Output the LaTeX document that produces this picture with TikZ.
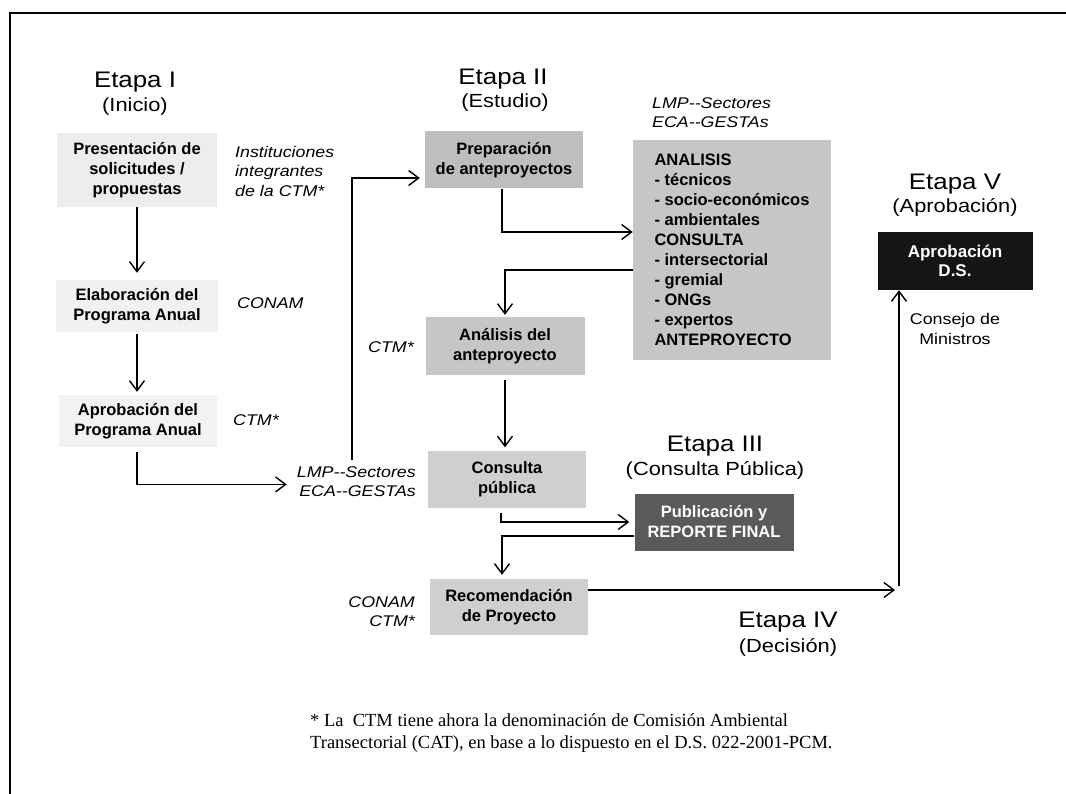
\documentclass[tikz,border=0pt]{standalone}
\usepackage{fontspec}
\setmainfont{Liberation Sans}
\newfontfamily\etfont[FakeStretch=1.15]{Liberation Sans}
\newfontfamily\boxfont{Liberation Sans}
\newfontfamily\notefont{Liberation Serif}
\usetikzlibrary{arrows.meta}
\definecolor{lightbox}{HTML}{EDEDED}
\definecolor{midboxA}{HTML}{BEBEBE}
\definecolor{midboxB}{HTML}{C6C6C6}
\definecolor{midboxC}{HTML}{CFCFCF}
\definecolor{darkbox}{HTML}{5A5A5A}
\definecolor{blackbox}{HTML}{151515}
\begin{document}
\begin{tikzpicture}[x=1pt,y=-1pt,
  arr/.style={line width=1.4pt, -{Straight Barb[length=10pt,width=15pt]}},
  bx/.style={inner sep=0pt, align=center, font={\boxfont\bfseries\fontsize{16.5}{20}\selectfont}},
  lbl/.style={inner sep=0pt, font={\etfont\itshape\fontsize{15.5}{19.5}\selectfont}},
  reg/.style={inner sep=0pt, font={\etfont\fontsize{15.5}{20}\selectfont}},
  ett/.style={inner sep=0pt, font={\etfont\fontsize{22.5}{26}\selectfont}},
  ets/.style={inner sep=0pt, font={\etfont\fontsize{19}{22}\selectfont}},
  note/.style={inner sep=0pt, align=left, font={\notefont\fontsize{18.5}{22.5}\selectfont}}
]
\useasboundingbox (0,0) rectangle (1066,794);
\fill[white] (0,0) rectangle (1066,794);
\draw[line width=1.5pt] (10,794) -- (10,13) -- (1066,13);

% Stage titles
\node[ett, anchor=base] (e1) at (135,88) {Etapa I};
\node[ets, anchor=base] (e1s) at (135,112) {(Inicio)};
\node[ett, anchor=base] (e2) at (503,85) {Etapa II};
\node[ets, anchor=base] (e2s) at (505,108) {(Estudio)};
\node[ett, anchor=base] (e3) at (715,451) {Etapa III};
\node[ets, anchor=base] (e3s) at (715,475) {(Consulta Pública)};
\node[ett, anchor=base] (e4) at (788,627) {Etapa IV};
\node[ets, anchor=base] (e4s) at (788,652) {(Decisión)};
\node[ett, anchor=base] (e5) at (955,190) {Etapa V};
\node[ets, anchor=base] (e5s) at (955,213) {(Aprobación)};

% Boxes
\node[bx, fill=lightbox, minimum width=160pt, minimum height=74pt] (pres) at (137,170) {Presentación de\\solicitudes /\\propuestas};
\node[bx, fill=lightbox!80!white, minimum width=162pt, minimum height=52pt] (elab) at (137,306) {Elaboración del\\Programa Anual};
\node[bx, fill=lightbox!70!white, minimum width=158pt, minimum height=52pt] (aprob) at (138,421) {Aprobación del\\Programa Anual};
\node[bx, fill=midboxA, minimum width=158pt, minimum height=57pt] (prep) at (504,160) {Preparación\\de anteproyectos};
\node[bx, fill=midboxB, minimum width=198pt, minimum height=220pt, align=left] (big) at (732,250) {ANALISIS\\- técnicos\\- socio-económicos\\- ambientales\\CONSULTA\\- intersectorial\\- gremial\\- ONGs\\- expertos\\ANTEPROYECTO};
\node[bx, fill=midboxB, minimum width=159pt, minimum height=58pt] (anal) at (505,346) {Análisis del\\anteproyecto};
\node[bx, fill=midboxC, minimum width=158pt, minimum height=57pt] (cons) at (507,479) {Consulta\\pública};
\node[bx, fill=darkbox, text=white, minimum width=159pt, minimum height=57pt] (pub) at (714,522) {Publicación y\\REPORTE FINAL};
\node[bx, fill=midboxC, minimum width=158pt, minimum height=56pt] (rec) at (509,607) {Recomendación\\de Proyecto};
\node[bx, fill=blackbox, text=white, minimum width=155pt, minimum height=58pt, font={\boxfont\bfseries\fontsize{17}{19}\selectfont}] (ds) at (955,261) {Aprobación\\D.S.};

% Labels
\node[lbl, anchor=north west, align=left] (inst) at (235,146) {Instituciones\\integrantes\\de la CTM*};
\node[lbl, anchor=west] (conamA) at (237,303) {CONAM};
\node[lbl, anchor=west] (ctmA) at (233,420) {CTM*};
\node[lbl, anchor=north east, align=right] (lmpA) at (416,466) {LMP{-}{-}Sectores\\ECA{-}{-}GESTAs};
\node[lbl, anchor=west] (ctmB) at (368,347) {CTM*};
\node[lbl, anchor=north west, align=left] (lmpB) at (652,97) {LMP{-}{-}Sectores\\ECA{-}{-}GESTAs};
\node[lbl, anchor=north east, align=right] (conamB) at (415,596) {CONAM\\CTM*};
\node[reg, anchor=north, align=center] (consejo) at (955,313) {Consejo de\\Ministros};

% Footnote
\node[note, anchor=north west] (fn) at (310,713) {* La\ \ CTM tiene ahora la denominación de Comisión Ambiental\\Transectorial (CAT), en base a lo dispuesto en el D.S. 022-2001-PCM.};

% Connectors
\coordinate (vA) at (352,460);
\coordinate (c2) at (895,590);
\coordinate (c3) at (899,586);
\draw[arr, shorten >=7pt] (pres.south) -- (pres.south |- elab.north);
\draw[arr, shorten <=2pt, shorten >=3pt] (elab.south) -- (elab.south |- aprob.north);
\draw[arr, shorten <=5pt, shorten >=10pt] ([xshift=-1pt]aprob.south) |- ([yshift=-3pt]lmpA.west);
\draw[arr, shorten >=5pt] (vA) |- ([yshift=-18pt]prep.west);
\draw[arr] ([xshift=-2pt]prep.south) |- ([yshift=18pt]big.west);
\draw[arr, shorten >=2pt] ([yshift=-20pt]big.west) -| (anal.north);
\draw[arr, shorten <=5pt, shorten >=3pt] (anal.south) -- (anal.south |- cons.north);
\draw[arr, shorten <=5pt, shorten >=5pt] ([xshift=-6pt]cons.south) |- (pub.west);
\draw[arr, shorten >=4pt] ([yshift=-14pt]pub.west) -| ([xshift=-7pt]rec.north);
\draw[arr] ([yshift=17pt]rec.east) -- (c2);
\draw[arr] (c3) -- (c3 |- ds.south);
\end{tikzpicture}
\end{document}
